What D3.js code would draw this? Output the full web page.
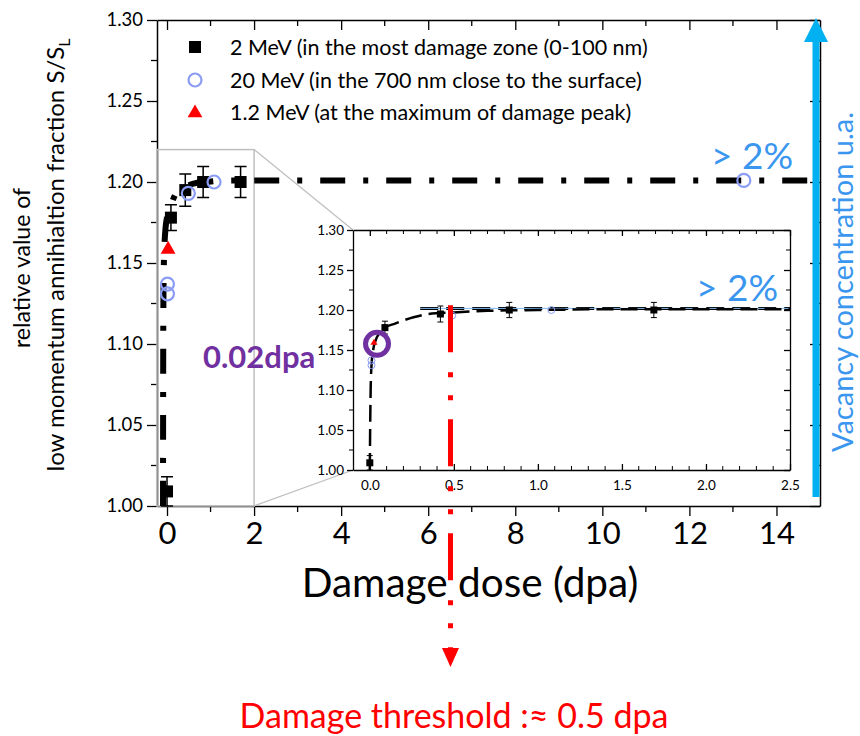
<!DOCTYPE html>
<html>
<head>
<meta charset="utf-8">
<script src="https://cdn.jsdelivr.net/npm/d3@7"></script>
<style>
  body { margin: 0; background: #fff; }
  svg { font-family: Lato, "Open Sans", sans-serif; }
</style>
</head>
<body>
<svg id="chart" width="860" height="736"></svg>
<script>
// ---- data ----
// 2 MeV (most damaged zone), with error bars
const mev2Dpa = [0.0, 0.09, 0.42, 0.83, 1.69];
const mev2S   = [1.009, 1.178, 1.195, 1.200, 1.200];
const mev2Err = [0.009, 0.008, 0.010, 0.0095, 0.0095];
// 20 MeV (700 nm near surface)
const mev20Dpa = [0.01, 0.01, 0.49, 1.08, 13.25];
const mev20S   = [1.137, 1.131, 1.193, 1.200, 1.201];
// 1.2 MeV (damage peak)
const mev12Dpa = [0.025];
const mev12S   = [1.159];
// fitted saturation curve (traced)
const fitDpa = [0.0, 0.002, 0.005, 0.01, 0.02, 0.035, 0.06, 0.09, 0.15, 0.26, 0.35, 0.5, 0.7, 1.0, 1.5, 2.5, 15];
const fitS   = [1.000, 1.050, 1.100, 1.130, 1.150, 1.162, 1.172, 1.178, 1.183, 1.191, 1.195, 1.197, 1.199, 1.200, 1.201, 1.201, 1.201];
const plateauS = 1.202, plateauFrom = 0.3;
const thresholdDpa = 0.48;
const zoomDpa = 2, zoomS = 1.22;

const mainXTicks = [0, 2, 4, 6, 8, 10, 12, 14];
const mainYTicks = [1.00, 1.05, 1.10, 1.15, 1.20, 1.25, 1.30];
const insetXTicks = [0.0, 0.5, 1.0, 1.5, 2.0, 2.5];

const legendLabels = [
  "2 MeV (in the most damage zone (0-100 nm)",
  "20 MeV (in the 700 nm close to the surface)",
  "1.2 MeV (at the maximum of damage peak)"
];

const mev2 = mev2Dpa.map((d, i) => ({dpa: d, s: mev2S[i], err: mev2Err[i]}));
const mev20 = mev20Dpa.map((d, i) => ({dpa: d, s: mev20S[i]}));
const mev12 = mev12Dpa.map((d, i) => ({dpa: d, s: mev12S[i]}));
const fit = fitDpa.map((d, i) => ({dpa: d, s: fitS[i]}));

const svg = d3.select("#chart");
const circleColor = "#8a9cf4";
const blueText = "#3a96ee";

// ---- main plot ----
const x = d3.scaleLinear().domain([-0.23, 15]).range([157, 820]);
const y = d3.scaleLinear().domain([1.0, 1.3]).range([506, 20]);

svg.append("defs").append("clipPath").attr("id", "mainClip")
  .append("rect").attr("x", 157).attr("y", 20).attr("width", 663).attr("height", 486);

function styleAxis(g, fs) {
  g.select(".domain").attr("stroke", "#000").attr("stroke-width", 1.5);
  g.selectAll(".tick line").attr("stroke", "#000").attr("stroke-width", 1.3);
  g.selectAll("text").attr("font-family", "Lato, sans-serif").attr("font-size", fs).attr("fill", "#000");
}

// minor ticks
const gMinor = svg.append("g");
d3.range(1, 15, 2).forEach(v => {
  gMinor.append("line").attr("x1", x(v)).attr("x2", x(v)).attr("y1", 506).attr("y2", 512).attr("stroke", "#000").attr("stroke-width", 1.3);
  gMinor.append("line").attr("x1", x(v)).attr("x2", x(v)).attr("y1", 20).attr("y2", 26).attr("stroke", "#000").attr("stroke-width", 1.3);
});
d3.range(1.025, 1.3, 0.05).forEach(v => {
  gMinor.append("line").attr("x1", 151).attr("x2", 157).attr("y1", y(v)).attr("y2", y(v)).attr("stroke", "#000").attr("stroke-width", 1.3);
  gMinor.append("line").attr("x1", 814).attr("x2", 820).attr("y1", y(v)).attr("y2", y(v)).attr("stroke", "#000").attr("stroke-width", 1.3);
});

const gx = svg.append("g").attr("transform", "translate(0,506)")
  .call(d3.axisBottom(x).tickValues(mainXTicks).tickSize(10).tickPadding(6).tickSizeOuter(0));
styleAxis(gx, 31);
const gxTop = svg.append("g").attr("transform", "translate(0,20)")
  .call(d3.axisTop(x).tickValues(mainXTicks).tickSize(-10).tickSizeOuter(0).tickFormat(""));
styleAxis(gxTop, 10);
const gy = svg.append("g").attr("transform", "translate(157,0)")
  .call(d3.axisLeft(y).tickValues(mainYTicks).tickSize(10).tickPadding(4).tickSizeOuter(0).tickFormat(d3.format(".2f")));
styleAxis(gy, 18.5);
const gyR = svg.append("g").attr("transform", "translate(820,0)")
  .call(d3.axisRight(y).tickValues(mainYTicks).tickSize(-10).tickSizeOuter(0).tickFormat(""));
styleAxis(gyR, 10);

// zoom box
svg.append("rect").attr("x", x.range()[0]).attr("y", y(zoomS))
  .attr("width", x(zoomDpa) - x.range()[0]).attr("height", y(1.0) - y(zoomS))
  .attr("fill", "none").attr("stroke", "#bfbfbf").attr("stroke-width", 1.5);

// main fit curve, dash-dot
const mainLine = d3.line().x(d => x(d.dpa) - 4).y(d => y(d.s)).curve(d3.curveMonotoneX);
svg.append("path").datum(fit).attr("clip-path", "url(#mainClip)")
  .attr("d", mainLine).attr("fill", "none").attr("stroke", "#000")
  .attr("stroke-width", 6).attr("stroke-dasharray", "25,18,5,18");

// main error bars + markers
const gm = svg.append("g");
gm.selectAll(".eb").data(mev2).join("path")
  .attr("d", d => {
    const cx = x(d.dpa), y1 = y(d.s + d.err), y2 = y(d.s - d.err);
    return `M${cx},${y1}V${y2}M${cx - 6},${y1}H${cx + 6}M${cx - 6},${y2}H${cx + 6}`;
  })
  .attr("stroke", "#000").attr("stroke-width", 1.5).attr("fill", "none");
gm.selectAll(".sq").data(mev2).join("rect")
  .attr("x", d => x(d.dpa) - 6).attr("y", d => y(d.s) - 6)
  .attr("width", 12).attr("height", 12).attr("fill", "#000");
gm.selectAll(".ci").data(mev20).join("circle")
  .attr("cx", d => x(d.dpa)).attr("cy", d => y(d.s)).attr("r", 6.5)
  .attr("fill", "none").attr("stroke", circleColor).attr("stroke-width", 2.2);
const tri = d3.symbol().type(d3.symbolTriangle);
gm.selectAll(".tr").data(mev12).join("path")
  .attr("transform", d => `translate(${x(d.dpa)},${y(d.s) + 1})`)
  .attr("d", tri.size(95)).attr("fill", "#ff0000");

// ---- inset ----
const ix = d3.scaleLinear().domain([-0.1, 2.5]).range([353, 790]);
const iy = d3.scaleLinear().domain([1.0, 1.3]).range([470, 230]);

svg.append("line").attr("x1", x(zoomDpa)).attr("y1", y(zoomS)).attr("x2", ix(-0.1)).attr("y2", iy(1.3))
  .attr("stroke", "#bfbfbf").attr("stroke-width", 1.3);
svg.append("line").attr("x1", x(zoomDpa)).attr("y1", y(1.0)).attr("x2", ix(-0.1)).attr("y2", iy(1.0))
  .attr("stroke", "#bfbfbf").attr("stroke-width", 1.3);

const inset = svg.append("g");
inset.append("rect").attr("x", 353).attr("y", 230).attr("width", 437).attr("height", 240).attr("fill", "#fff");

const iMinor = inset.append("g");
d3.range(0, 2.5, 0.1).forEach(v => {
  if (Math.abs(v * 2 - Math.round(v * 2)) < 1e-6) return;
  iMinor.append("line").attr("x1", ix(v)).attr("x2", ix(v)).attr("y1", 470).attr("y2", 466).attr("stroke", "#000");
  iMinor.append("line").attr("x1", ix(v)).attr("x2", ix(v)).attr("y1", 230).attr("y2", 234).attr("stroke", "#000");
});
d3.range(1.025, 1.3, 0.05).forEach(v => {
  iMinor.append("line").attr("x1", 349).attr("x2", 353).attr("y1", iy(v)).attr("y2", iy(v)).attr("stroke", "#000");
  iMinor.append("line").attr("x1", 786).attr("x2", 790).attr("y1", iy(v)).attr("y2", iy(v)).attr("stroke", "#000");
});

const igx = inset.append("g").attr("transform", "translate(0,470)")
  .call(d3.axisBottom(ix).tickValues(insetXTicks).tickSize(-6).tickPadding(10).tickSizeOuter(0).tickFormat(d3.format(".1f")));
styleAxis(igx, 13.5);
const igxT = inset.append("g").attr("transform", "translate(0,230)")
  .call(d3.axisTop(ix).tickValues(insetXTicks).tickSize(-6).tickSizeOuter(0).tickFormat(""));
styleAxis(igxT, 13);
const igy = inset.append("g").attr("transform", "translate(353,0)")
  .call(d3.axisLeft(iy).tickValues(mainYTicks).tickSize(6).tickPadding(3).tickSizeOuter(0).tickFormat(d3.format(".2f")));
styleAxis(igy, 13.5);
const igyR = inset.append("g").attr("transform", "translate(790,0)")
  .call(d3.axisRight(iy).tickValues(mainYTicks).tickSize(-6).tickSizeOuter(0).tickFormat(""));
styleAxis(igyR, 13);
inset.selectAll(".domain").attr("stroke-width", 1.3);

// plateau reference lines
inset.append("line").attr("x1", ix(plateauFrom)).attr("x2", ix(2.5)).attr("y1", iy(plateauS)).attr("y2", iy(plateauS))
  .attr("stroke", "#000").attr("stroke-width", 3).attr("stroke-dasharray", "18,8");
inset.append("line").attr("x1", ix(plateauFrom)).attr("x2", ix(2.5)).attr("y1", iy(plateauS)).attr("y2", iy(plateauS))
  .attr("stroke", "#7fb8f0").attr("stroke-width", 1);

const insetLine = d3.line().x(d => ix(d.dpa)).y(d => iy(d.s)).curve(d3.curveMonotoneX);
inset.append("path").datum(fit.filter(d => d.dpa <= 2.5))
  .attr("d", insetLine).attr("fill", "none").attr("stroke", "#000")
  .attr("stroke-width", 2.5).attr("stroke-dasharray", "17,7");

inset.selectAll(".eb").data(mev2).join("path")
  .attr("d", d => {
    const cx = ix(d.dpa), y1 = iy(d.s + d.err), y2 = iy(d.s - d.err);
    return `M${cx},${y1}V${y2}M${cx - 3},${y1}H${cx + 3}M${cx - 3},${y2}H${cx + 3}`;
  })
  .attr("stroke", "#000").attr("stroke-width", 1).attr("fill", "none");
inset.selectAll(".sq").data(mev2).join("rect")
  .attr("x", d => ix(d.dpa) - 3.5).attr("y", d => iy(d.s) - 3.5)
  .attr("width", 7).attr("height", 7).attr("fill", "#000");
inset.selectAll(".ci").data(mev20.filter(d => d.dpa <= 2.5)).join("circle")
  .attr("cx", d => ix(d.dpa)).attr("cy", d => iy(d.s)).attr("r", 3.5)
  .attr("fill", "none").attr("stroke", circleColor).attr("stroke-width", 1);
inset.selectAll(".tr").data(mev12).join("path")
  .attr("transform", d => `translate(${ix(d.dpa)},${iy(d.s)})`)
  .attr("d", d3.symbol().type(d3.symbolTriangle).size(22)).attr("fill", "#ff0000");

// purple highlight
inset.append("circle").attr("cx", ix(mev12Dpa[0]) + 3).attr("cy", iy(mev12S[0]) + 1).attr("r", 11.5)
  .attr("fill", "none").attr("stroke", "#7030a0").attr("stroke-width", 5);

// ---- legend ----
const legendY = [47, 80, 112];
const lg = svg.append("g");
lg.append("rect").attr("x", 189).attr("y", legendY[0] - 6).attr("width", 12).attr("height", 12).attr("fill", "#000");
lg.append("circle").attr("cx", 195).attr("cy", legendY[1]).attr("r", 6.5).attr("fill", "none").attr("stroke", circleColor).attr("stroke-width", 2.2);
lg.append("path").attr("transform", `translate(195,${legendY[2] + 1})`).attr("d", tri.size(95)).attr("fill", "#ff0000");
lg.selectAll("text").data(legendLabels).join("text")
  .attr("x", 230).attr("y", (d, i) => legendY[i]).attr("dy", "0.35em")
  .attr("font-size", 21.5).text(d => d);

// ---- axis titles ----
svg.append("text").attr("x", 470).attr("y", 597).attr("text-anchor", "middle")
  .attr("font-size", 40.5).text("Damage dose (dpa)");
svg.append("text").attr("transform", "translate(30,268) rotate(-90)").attr("text-anchor", "middle")
  .attr("font-size", 23).text("relative value of");
const yt = svg.append("text").attr("transform", "translate(64,255) rotate(-90)").attr("text-anchor", "middle")
  .attr("font-size", 24);
yt.append("tspan").text("low momentum annihialtion fraction S/S");
yt.append("tspan").attr("font-size", 16).attr("dy", 6).text("L");

// ---- annotations ----
svg.append("line").attr("x1", 816).attr("x2", 816).attr("y1", 497).attr("y2", 38)
  .attr("stroke", "#00b0f0").attr("stroke-width", 7);
svg.append("path").attr("d", "M816,18L828,42L804,42Z").attr("fill", "#00b0f0");
svg.append("text").attr("transform", "translate(853,282) rotate(-90)").attr("text-anchor", "middle")
  .attr("font-size", 29).attr("fill", blueText).text("Vacancy concentration u.a.");
svg.append("text").attr("x", 711).attr("y", 169).attr("font-size", 37).attr("fill", blueText).text("> 2%");
svg.append("text").attr("x", 696).attr("y", 301).attr("font-size", 37).attr("fill", blueText).text("> 2%");
svg.append("text").attr("x", 203).attr("y", 368).attr("font-size", 31).attr("font-weight", "bold")
  .attr("fill", "#7030a0").text("0.02dpa");

// damage threshold marker
svg.append("line").attr("x1", ix(thresholdDpa)).attr("x2", ix(thresholdDpa)).attr("y1", iy(1.206)).attr("y2", 648)
  .attr("stroke", "#ff0000").attr("stroke-width", 5).attr("stroke-dasharray", "47,20,5,18,5,19");
svg.append("path").attr("d", `M${ix(thresholdDpa) - 8.5},648H${ix(thresholdDpa) + 8.5}L${ix(thresholdDpa)},667Z`).attr("fill", "#ff0000");
svg.append("text").attr("x", 454).attr("y", 728).attr("text-anchor", "middle")
  .attr("font-size", 34).attr("fill", "#ff0000").text("Damage threshold :\u2248 0.5 dpa");
</script>
</body>
</html>
